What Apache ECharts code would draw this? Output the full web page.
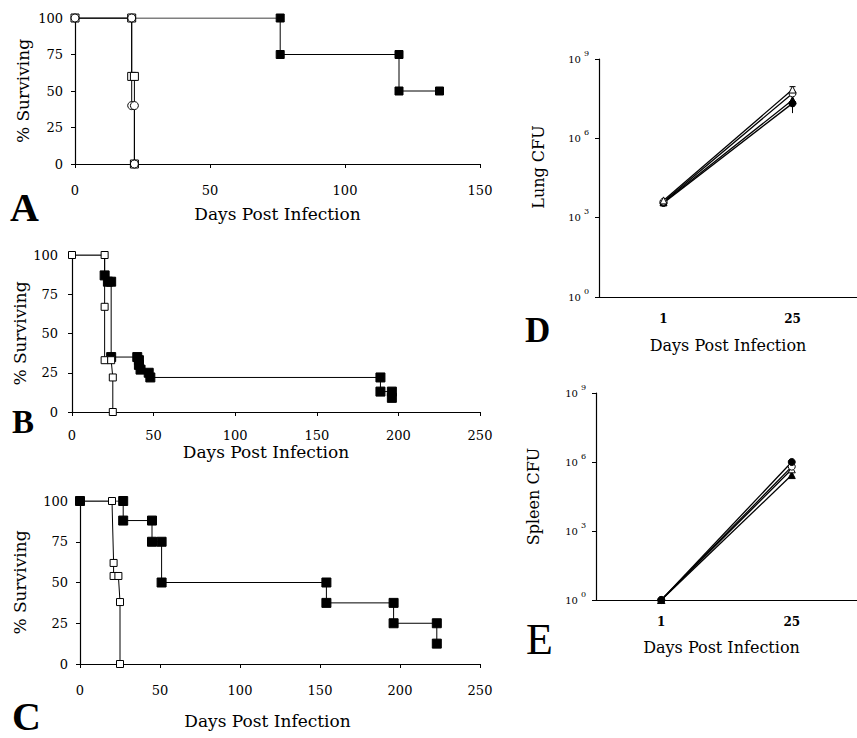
<!DOCTYPE html>
<html>
<head>
<meta charset="utf-8">
<script src="https://cdn.jsdelivr.net/npm/echarts@6/dist/echarts.min.js"></script>
<style>
  html, body { margin: 0; background: #fff; }
  #chart { width: 857px; height: 738px; }
</style>
</head>
<body>
<div id="chart"></div>
<script>
const SERIF = 'DejaVu Serif'
const LETTER = 'Liberation Serif'

// survival curves, [day, % surviving]
const aOpenSquare = [[0, 100], [21, 100], [21, 60], [22, 60], [22, 0]]
const aOpenCircle = [[0, 100], [21, 100], [21, 40], [22, 40], [22, 0]]
const aFilled = [[0, 100], [76, 100], [76, 75], [120, 75], [120, 50], [135, 50]]

const bOpen = [[0, 100], [20, 100], [20, 67], [20, 33], [24, 33], [25, 22], [25, 0]]
const bFilled = [[0, 100], [20, 100], [20, 87], [22, 83], [24, 83], [24, 35], [40, 35], [41, 33], [41, 30], [42, 27],
  [47, 25], [48, 22], [189, 22], [189, 13], [196, 13], [196, 9]]

const cOpen = [[0, 100], [20, 100], [21, 62], [21, 54], [24, 54], [25, 38], [25, 0]]
const cFilled = [[0, 100], [27, 100], [27, 88], [45, 88], [45, 75], [51, 75], [51, 50], [154, 50], [154, 37.5],
  [196, 37.5], [196, 25], [223, 25], [223, 12.5]]

// CFU, days 1 and 25
const cfuDays = ['1', '25']
const lungOpenTriangle = [4500, 7.0e7]
const lungOpenCircle = [4000, 5.0e7]
const lungFilledTriangle = [3800, 2.8e7]
const lungFilledCircle = [3600, 2.1e7]
const lungErrDay = [1, 1]
const lungErrLow = [9.0e6, 7.0e7]
const lungErrHigh = [2.1e7, 9.0e7]

const spleenFilledCircle = [1, 1.0e6]
const spleenOpenCircle = [1, 6.3e5]
const spleenOpenTriangle = [1, 4.8e5]
const spleenFilledTriangle = [1, 2.7e5]

const chart = echarts.init(document.getElementById('chart'), null, { renderer: 'svg' })

const axisLine = { lineStyle: { color: '#000', width: 1.2 } }
const axisTick = { length: 4, lineStyle: { color: '#000', width: 1 } }

const survX = (grid, max, margin, nameGap, padRight) => ({
  type: 'value', gridIndex: grid, min: 0, max, interval: 50,
  name: 'Days Post Infection', nameLocation: 'middle', nameGap,
  nameTextStyle: { fontFamily: SERIF, fontSize: 17, color: '#000', padding: [0, padRight, 0, 0] },
  axisLine, axisTick,
  axisLabel: { margin, fontFamily: SERIF, fontSize: 13, color: '#000' },
  splitLine: { show: false }
})

const survY = (grid, margin, nameGap) => ({
  type: 'value', gridIndex: grid, min: 0, max: 100, interval: 25,
  name: '% Surviving', nameLocation: 'middle', nameGap,
  nameTextStyle: { fontFamily: SERIF, fontSize: 17, color: '#000' },
  axisLine: { show: true, ...axisLine }, axisTick: { show: true, ...axisTick },
  axisLabel: { margin, fontFamily: SERIF, fontSize: 13, color: '#000' },
  splitLine: { show: false }
})

const cfuX = (grid, nameGap, padRight) => ({
  type: 'category', gridIndex: grid, data: cfuDays, boundaryGap: true,
  name: 'Days Post Infection', nameLocation: 'middle', nameGap,
  nameTextStyle: { fontFamily: SERIF, fontSize: 16, color: '#000', padding: [0, padRight, 0, 0] },
  axisLine, axisTick,
  axisLabel: { margin: 16, fontFamily: SERIF, fontSize: 12, fontWeight: 'bold', color: '#000' }
})

const cfuY = (grid, name, nameGap, padLeft) => ({
  type: 'log', gridIndex: grid, logBase: 10, min: 1, max: 1e9, interval: 3,
  name, nameLocation: 'middle', nameGap,
  nameTextStyle: { fontFamily: SERIF, fontSize: 16, color: '#000', padding: [0, 0, 0, padLeft] },
  axisLine: { show: true, ...axisLine }, axisTick: { show: true, ...axisTick },
  axisLabel: {
    margin: 10,
    formatter: v => '10{e|' + Math.round(Math.log10(v)) + '}',
    fontFamily: SERIF, fontSize: 10, color: '#000',
    rich: { e: { fontFamily: SERIF, fontSize: 8, color: '#000', padding: [0, 0, 12, 3] } }
  },
  splitLine: { show: false }
})

// Kaplan-Meier style line with markers at each step point
const km = (data, idx, filled, symbol, size, hidden = []) => ({
  type: 'line', xAxisIndex: idx, yAxisIndex: idx, data,
  symbol: (v, p) => hidden.includes(p.dataIndex) ? 'none' : symbol,
  symbolSize: size, showAllSymbol: true,
  lineStyle: { color: '#000', width: 1 },
  itemStyle: { color: filled ? '#000' : '#fff', borderColor: '#000', borderWidth: 1 },
  emphasis: { disabled: true }, animation: false
})

const cfu = (data, idx, filled, symbol) => ({
  type: 'line', xAxisIndex: idx, yAxisIndex: idx, data,
  symbol, symbolSize: 7,
  lineStyle: { color: '#000', width: 1.3 },
  itemStyle: { color: filled ? '#000' : '#fff', borderColor: '#000', borderWidth: 1 },
  emphasis: { disabled: true }, animation: false
})

const errBars = {
  type: 'custom', xAxisIndex: 3, yAxisIndex: 3,
  data: lungErrDay.map((d, i) => [d, lungErrLow[i], lungErrHigh[i]]),
  renderItem: (params, api) => {
    const lo = api.coord([api.value(0), api.value(1)])
    const hi = api.coord([api.value(0), api.value(2)])
    const st = { stroke: '#000', lineWidth: 1 }
    return {
      type: 'group', children: [
        { type: 'line', shape: { x1: lo[0], y1: lo[1], x2: hi[0], y2: hi[1] }, style: st },
        { type: 'line', shape: { x1: hi[0] - 3, y1: hi[1], x2: hi[0] + 3, y2: hi[1] }, style: st }
      ]
    }
  },
  z: 1, animation: false
}

const letter = (t, x, y, size, weight) => ({
  type: 'text', x, y,
  style: { text: t, fontFamily: LETTER, fontSize: size, fontWeight: weight, fill: '#000', verticalAlign: 'middle' }
})

chart.setOption({
  backgroundColor: '#fff',
  animation: false,
  grid: [
    { left: 75, top: 18, width: 405, height: 146 },
    { left: 72, top: 255, width: 408, height: 157 },
    { left: 80, top: 501, width: 400, height: 163 },
    { left: 599, top: 59, width: 268, height: 238 },
    { left: 596, top: 393, width: 272, height: 207 }
  ],
  xAxis: [
    survX(0, 150, 20, 41, 0),
    survX(1, 250, 17, 31, 20),
    survX(2, 250, 20, 48, 25),
    cfuX(3, 40, 0),
    cfuX(4, 39, 10)
  ],
  yAxis: [
    survY(0, 12, 44),
    survY(1, 14, 44),
    survY(2, 12, 52),
    cfuY(3, 'Lung CFU', 53, 22),
    cfuY(4, 'Spleen CFU', 55, 0)
  ],
  series: [
    km(aFilled, 0, true, 'rect', 8, [0]),
    km(aOpenSquare, 0, false, 'rect', 8),
    km(aOpenCircle, 0, false, 'circle', 8),
    km(bFilled, 1, true, 'rect', 9, [0, 1]),
    km(bOpen, 1, false, 'rect', 7),
    km(cOpen, 2, false, 'rect', 7, [0]),
    km(cFilled, 2, true, 'rect', 9),
    errBars,
    cfu(lungFilledCircle, 3, true, 'circle'),
    cfu(lungFilledTriangle, 3, true, 'triangle'),
    cfu(lungOpenCircle, 3, false, 'circle'),
    cfu(lungOpenTriangle, 3, false, 'triangle'),
    cfu(spleenFilledTriangle, 4, true, 'triangle'),
    cfu(spleenOpenTriangle, 4, false, 'triangle'),
    cfu(spleenOpenCircle, 4, false, 'circle'),
    cfu(spleenFilledCircle, 4, true, 'circle')
  ],
  graphic: [
    letter('A', 10, 207, 40, 'bold'),
    letter('B', 12, 422, 33, 'bold'),
    letter('C', 12, 716, 40, 'bold'),
    letter('D', 525, 330, 35, 'bold'),
    letter('E', 526, 639, 44, 'normal')
  ]
})
</script>
</body>
</html>
